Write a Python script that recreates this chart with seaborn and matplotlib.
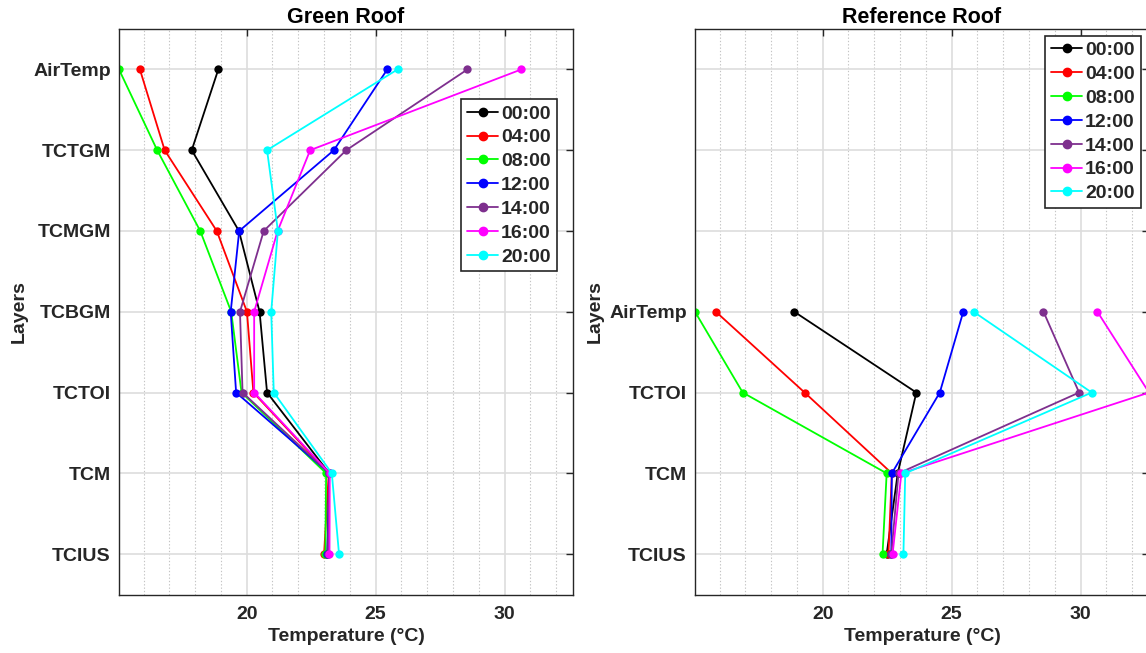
import matplotlib
matplotlib.use("Agg")
import matplotlib.pyplot as plt
from matplotlib.ticker import MultipleLocator, FixedLocator
from matplotlib.lines import Line2D
import seaborn as sns
import pandas as pd

# ---------------- data ----------------
times = ["00:00", "04:00", "08:00", "12:00", "14:00", "16:00", "20:00"]
colors = ["#000000", "#FF0000", "#00FF00", "#0000FF", "#7E2F8E", "#FF00FF", "#00FFFF"]

green_layers = ["AirTemp", "TCTGM", "TCMGM", "TCBGM", "TCTOI", "TCM", "TCIUS"]
green_t0000 = [18.90, 17.87, 19.70, 20.50, 20.79, 23.20, 23.13]
green_t0400 = [15.86, 16.82, 18.84, 20.01, 20.26, 23.18, 23.00]
green_t0800 = [15.05, 16.53, 18.20, 19.40, 19.80, 23.08, 23.05]
green_t1200 = [25.45, 23.38, 19.71, 19.38, 19.59, 23.20, 23.13]
green_t1400 = [28.56, 23.86, 20.66, 19.74, 19.84, 23.20, 23.15]
green_t1600 = [30.65, 22.46, 21.20, 20.29, 20.29, 23.22, 23.21]
green_t2000 = [25.85, 20.79, 21.21, 20.95, 21.05, 23.30, 23.58]

ref_layers = ["AirTemp", "TCTOI", "TCM", "TCIUS"]
ref_t0000 = [18.90, 23.63, 22.91, 22.48]
ref_t0400 = [15.86, 19.30, 22.68, 22.55]
ref_t0800 = [15.05, 16.90, 22.48, 22.32]
ref_t1200 = [25.45, 24.54, 22.68, 22.66]
ref_t1400 = [28.56, 29.94, 22.94, 22.66]
ref_t1600 = [30.65, 32.65, 23.05, 22.71]
ref_t2000 = [25.85, 30.43, 23.20, 23.13]

green_series = [green_t0000, green_t0400, green_t0800, green_t1200,
                green_t1400, green_t1600, green_t2000]
ref_series = [ref_t0000, ref_t0400, ref_t0800, ref_t1200,
              ref_t1400, ref_t1600, ref_t2000]

n_slots = 7
x_min, x_max = 15.05, 32.65


def to_frame(layers, series):
    rows = []
    n = len(layers)
    for t, vals in zip(times, series):
        for i, (lay, v) in enumerate(zip(layers, vals)):
            rows.append({"time": t, "layer": lay, "pos": n - i, "temp": v, "order": i})
    return pd.DataFrame(rows)


df_green = to_frame(green_layers, green_series)
df_ref = to_frame(ref_layers, ref_series)

# ---------------- style ----------------
sns.set_style("white")
plt.rcParams["font.family"] = ["Liberation Sans", "DejaVu Sans"]
plt.rcParams["font.weight"] = "bold"
plt.rcParams["axes.titleweight"] = "bold"
plt.rcParams["axes.labelweight"] = "bold"

palette = dict(zip(times, colors))
dark = "#262626"

fig = plt.figure(figsize=(11.46, 6.53), dpi=100)
W, H = 1146, 653
ax_w = 454 / W
ax_h = (594.5 - 29) / H
ax_b = (H - 594.5) / H
ax1 = fig.add_axes([119 / W, ax_b, ax_w, ax_h])
ax2 = fig.add_axes([695 / W, ax_b, ax_w, ax_h])


def style_axes(ax, title, layers, legend_anchor):
    n = len(layers)
    ax.set_xlim(x_min, x_max)
    ax.set_ylim(0.5, n_slots + 0.5)
    ax.xaxis.set_major_locator(FixedLocator([20, 25, 30]))
    ax.xaxis.set_minor_locator(MultipleLocator(1))
    ax.yaxis.set_major_locator(FixedLocator(list(range(1, n_slots + 1))))
    labels = [""] * n_slots
    for i, lay in enumerate(layers):
        labels[n - i - 1] = lay
    ax.set_yticklabels(labels)
    ax.set_xticklabels(["20", "25", "30"])
    ax.tick_params(axis="both", which="major", direction="in", length=5, width=1,
                   top=True, right=True, labelsize=14, colors=dark, pad=8)
    ax.tick_params(axis="y", which="major", pad=6)
    ax.tick_params(axis="x", which="minor", length=0, top=False, bottom=False)
    ax.grid(which="major", color="#dddddd", lw=1.2)
    ax.grid(which="minor", axis="x", color="#c4c4c4", ls=(0, (1.2, 1.8)), lw=0.8)
    ax.set_axisbelow(True)
    for s in ax.spines.values():
        s.set_color(dark)
        s.set_linewidth(1.0)
        s.set_visible(True)
    ax.set_title(title, fontsize=15.5, fontweight="bold", pad=4, color="black")
    ax.set_xlabel("Temperature (°C)", fontsize=14, fontweight="bold", color=dark, labelpad=4)
    ax.set_ylabel("Layers", fontsize=14, fontweight="bold", color=dark, labelpad=4)
    for lbl in ax.get_xticklabels() + ax.get_yticklabels():
        lbl.set_fontweight("bold")
    handles = [Line2D([], [], color=c, marker="o", markersize=6, lw=1.3) for c in colors]
    leg = ax.legend(handles, times, loc="upper right", bbox_to_anchor=legend_anchor,
                    fontsize=14, frameon=True, fancybox=False, framealpha=1,
                    edgecolor=dark, handlelength=1.6, handletextpad=0.15,
                    borderpad=0.3, labelspacing=0.32, borderaxespad=0)
    leg.get_frame().set_linewidth(1.2)
    for t in leg.get_texts():
        t.set_fontweight("bold")


for ax, df in [(ax1, df_green), (ax2, df_ref)]:
    sns.lineplot(data=df, x="temp", y="pos", hue="time", hue_order=times,
                 palette=palette, sort=False, estimator=None, units="time",
                 orient="y", marker="o", markersize=6, markeredgewidth=0,
                 linewidth=1.3, legend=False, ax=ax)

style_axes(ax1, "Green Roof", green_layers, (0.964, 0.876))
style_axes(ax2, "Reference Roof", ref_layers, (0.982, 0.988))

fig.savefig("out.png", dpi=100)
